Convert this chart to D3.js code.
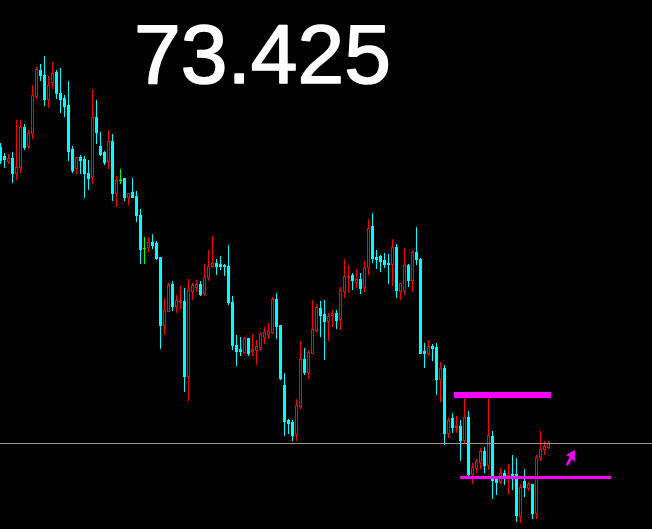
<!DOCTYPE html>
<html>
<head>
<meta charset="utf-8">
<script src="https://cdn.jsdelivr.net/npm/d3@7"></script>
<style>
html,body{margin:0;padding:0;background:#000;}
svg{display:block;}
</style>
</head>
<body>
<svg id="chart" width="652" height="529"></svg>
<script>
// ---- data (OHLC, one bar per index) ----
const open = [76.385,76.295,76.245,76.275,76.125,76.185,76.585,76.395,76.525,76.895,
77.155,77.105,76.865,77.035,77.135,76.925,76.875,76.805,76.365,76.175,
76.285,76.265,76.125,76.085,76.685,76.395,76.335,76.245,76.445,75.925,
76.055,76.075,75.885,75.935,75.895,75.705,75.375,75.385,75.435,75.425,
75.285,74.605,74.745,75.015,74.795,74.835,74.845,74.095,74.945,74.985,
75.015,74.925,75.085,75.195,75.225,75.215,75.205,75.195,74.835,74.405,
74.365,74.335,74.475,74.345,74.355,74.385,74.485,74.515,74.535,74.865,
74.605,74.005,73.655,73.635,73.515,73.795,74.265,74.135,74.325,74.555,
74.775,74.715,74.645,74.705,74.725,74.665,74.945,75.085,75.105,75.035,
75.065,74.985,75.185,75.595,75.285,75.295,75.255,75.225,75.215,75.385,
74.945,74.945,75.205,75.055,75.335,75.265,74.345,74.325,74.395,74.385,
74.065,74.175,73.525,73.675,73.585,73.595,73.455,73.685,73.115,73.175,
73.235,73.345,73.205,73.495,73.065,73.045,73.125,73.085,73.115,73.115,
72.695,73.045,72.975,73.015,72.725,73.285,73.365,73.385];

const high = [76.425,76.325,76.315,76.335,76.655,76.655,76.615,76.555,77.005,77.185,
77.215,77.295,77.095,77.235,77.155,77.175,76.905,77.045,76.395,76.285,
76.305,76.295,76.255,76.965,76.855,76.535,76.345,76.555,76.515,76.095,
76.165,76.075,75.925,76.075,75.945,75.765,75.485,75.485,75.515,75.445,
75.285,74.875,75.025,75.045,74.905,74.995,74.975,75.065,75.025,75.055,
75.045,75.215,75.355,75.495,75.265,75.295,75.215,75.405,74.895,74.505,
74.485,74.485,74.475,74.515,74.455,74.535,74.585,74.625,74.885,74.925,
74.605,74.125,73.665,73.655,73.865,74.445,74.375,74.355,74.855,74.815,
74.845,74.855,74.725,74.755,74.755,74.985,75.265,75.205,75.125,75.165,
75.125,75.245,75.665,75.725,75.355,75.305,75.325,75.315,75.465,75.415,
75.025,75.375,75.215,75.355,75.585,75.275,74.425,74.455,74.415,74.425,
74.235,74.205,73.675,73.725,73.695,73.655,73.885,73.745,73.225,73.265,
73.375,73.385,73.885,73.545,73.085,73.175,73.155,73.215,73.305,73.275,
73.015,73.165,73.035,73.015,73.305,73.545,73.445,73.445];

const low = [76.225,76.185,76.225,76.035,76.065,76.135,76.365,76.375,76.475,76.875,
77.055,76.805,76.785,76.975,76.875,76.735,76.695,76.255,76.135,76.125,
76.125,75.885,75.965,76.025,76.425,76.305,76.215,76.175,75.855,75.795,
76.025,75.855,75.815,75.885,75.645,75.225,75.225,75.345,75.375,75.265,
74.375,74.515,74.745,74.755,74.735,74.775,73.945,73.855,74.865,74.945,
74.905,74.905,75.055,75.185,75.115,75.165,75.105,74.815,74.365,74.205,
74.305,74.325,74.305,74.305,74.215,74.355,74.425,74.475,74.525,74.475,
74.065,73.505,73.525,73.455,73.455,73.775,74.115,74.075,74.325,74.545,
74.495,74.265,74.455,74.595,74.575,74.565,74.885,74.935,74.965,74.985,
74.925,74.945,75.115,75.235,75.175,75.145,75.185,75.025,75.005,74.885,
74.865,74.915,74.995,74.945,75.215,74.325,74.185,74.305,74.255,73.915,
73.845,73.415,73.485,73.535,73.535,73.255,73.425,73.085,73.025,73.135,
73.175,73.135,73.165,72.875,72.915,73.025,73.015,72.925,72.965,72.645,
72.635,72.895,72.955,72.675,72.675,73.255,73.315,73.375];

const close = [76.255,76.265,76.275,76.125,76.185,76.585,76.385,76.525,76.905,77.165,
77.105,76.865,77.005,77.125,76.925,76.865,76.795,76.345,76.155,76.285,
76.255,76.125,76.075,76.685,76.535,76.315,76.235,76.445,75.925,76.055,
76.055,75.885,75.925,75.885,75.705,75.365,75.375,75.435,75.405,75.275,
74.605,74.755,75.005,74.795,74.855,74.855,74.095,74.955,75.005,75.015,
74.915,75.085,75.195,75.225,75.195,75.195,75.195,74.835,74.405,74.345,
74.345,74.475,74.325,74.365,74.395,74.515,74.535,74.545,74.865,74.595,
74.075,73.645,73.625,73.505,73.805,74.265,74.135,74.335,74.565,74.785,
74.705,74.645,74.695,74.725,74.655,74.955,75.095,75.095,75.055,75.065,
74.975,75.185,75.575,75.275,75.265,75.245,75.215,75.215,75.385,74.955,
75.025,75.205,75.055,75.335,75.265,74.325,74.325,74.395,74.375,74.065,
74.175,73.525,73.655,73.585,73.605,73.455,73.685,73.115,73.185,73.245,
73.345,73.205,73.505,73.055,73.035,73.125,73.085,73.105,73.085,72.705,
72.985,72.985,73.015,72.725,73.285,73.365,73.395,73.425];

// horizontal level objects: [startBar, endBar, price]
const levelStart = [113.375, 114.875];
const levelEnd   = [137.625, 152.625];
const levelPrice = [73.905, 73.085];
// arrow object: bar index and price of its tip
const arrowBar = 143.6;
const arrowPrice = 73.355;

// ---- drawing ----
const W = 652, H = 529;
const svg = d3.select("#chart");
svg.append("rect").attr("width", W).attr("height", H).attr("fill", "#000");

const n = close.length;
const x = d3.scaleLinear().domain([0, n - 1]).range([0.5, 4 * (n - 1) + 0.5]);
const y = d3.scaleLinear().domain([77.855, 72.565]).range([0, 529]);
const py = p => Math.round(y(p));

const CYAN = "#00ffff", RED = "#ff0000", GREEN = "#00ff00", MAG = "#ff00ff";

const bars = d3.range(n).map(i => ({i, o: open[i], h: high[i], l: low[i], c: close[i]}));
const g = svg.append("g").attr("shape-rendering", "crispEdges");

bars.forEach(d => {
  const cx = x(d.i);
  const col = d.c < d.o ? CYAN : (d.c > d.o ? RED : GREEN);
  const yH = py(d.h), yL = py(d.l);
  // wick
  g.append("rect").attr("x", cx - 0.5).attr("y", yH).attr("width", 1)
    .attr("height", Math.max(1, yL - yH + 1)).attr("fill", col);
  const yT = py(Math.max(d.o, d.c)), yB = py(Math.min(d.o, d.c));
  if (d.c < d.o) {
    g.append("rect").attr("x", cx - 1.5).attr("y", yT).attr("width", 3)
      .attr("height", yB - yT + 1).attr("fill", CYAN);
  } else if (d.c > d.o) {
    g.append("rect").attr("x", cx - 1.5).attr("y", yT).attr("width", 3)
      .attr("height", yB - yT + 1).attr("fill", RED);
    if (yB - yT >= 2) {
      g.append("rect").attr("x", cx - 0.5).attr("y", yT + 1).attr("width", 1)
        .attr("height", yB - yT - 1).attr("fill", "#000");
    }
  } else {
    g.append("rect").attr("x", cx - 1.5).attr("y", yT).attr("width", 3)
      .attr("height", 1).attr("fill", GREEN);
  }
});

// current price line
const lastY = py(close[n - 1]);
svg.append("rect").attr("x", 0).attr("y", lastY).attr("width", W).attr("height", 1)
  .attr("fill", "#9a9a9a").attr("shape-rendering", "crispEdges");

// magenta levels
const thick = [6, 3];
levelPrice.forEach((p, k) => {
  svg.append("rect")
    .attr("x", Math.round(x(levelStart[k])))
    .attr("y", py(p) - Math.floor(thick[k] / 2))
    .attr("width", Math.round(x(levelEnd[k]) - x(levelStart[k])))
    .attr("height", thick[k])
    .attr("fill", MAG).attr("shape-rendering", "crispEdges");
});

// arrow (up-right)
const ax = x(arrowBar), ay = y(arrowPrice);
svg.append("path")
  .attr("d", `M${ax},${ay} L${ax-9},${ay+5} L${ax-5},${ay+7} L${ax-9},${ay+14} L${ax-7},${ay+16} L${ax-3},${ay+9} L${ax},${ay+12} Z`)
  .attr("fill", MAG);

// big price label
svg.append("text")
  .attr("x", 134).attr("y", 83)
  .attr("font-family", "'Liberation Sans', Arial, sans-serif")
  .attr("font-size", 84)
  .attr("fill", "#fff")
  .attr("stroke", "#fff")
  .attr("stroke-width", 1.6)
  .attr("stroke-linejoin", "round")
  .text(d3.format(".3f")(close[n - 1]));
</script>
</body>
</html>
